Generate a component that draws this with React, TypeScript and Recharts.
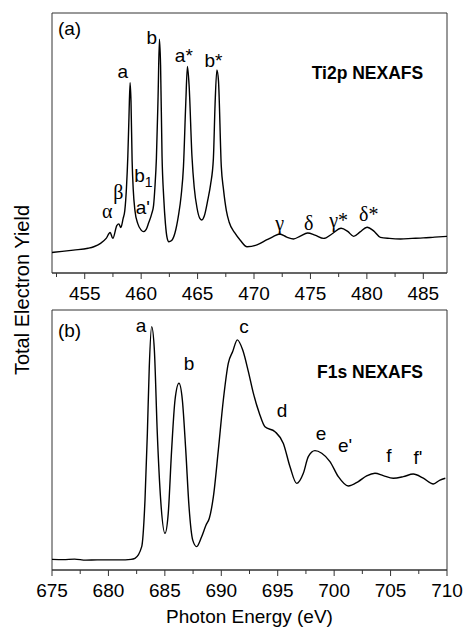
import { LineChart, Line, XAxis, YAxis, ReferenceArea, ReferenceDot } from 'recharts'

const SANS = '"Liberation Sans", Arial, Helvetica, sans-serif'
const SERIF = '"Liberation Serif", "Times New Roman", serif'

// Ti 2p spectrum (panel a)
const tiEnergy = [
  452.1, 453.0, 454.0, 455.3, 455.8, 456.4, 456.9, 457.25, 457.49, 457.84, 458.02, 458.2, 458.4,
  458.55, 458.7, 458.82, 458.92, 459.02, 459.1, 459.2, 459.3, 459.45, 459.7, 460.0, 460.2, 460.45,
  460.65, 460.95, 461.1, 461.22, 461.35, 461.5, 461.62, 461.72, 461.85, 462.0, 462.15, 462.3, 462.45,
  462.7, 463.0, 463.3, 463.55, 463.75, 463.95, 464.1, 464.25, 464.5, 464.7, 464.95, 465.2, 465.38,
  465.6, 465.9, 466.15, 466.4, 466.55, 466.71, 466.85, 467.1, 467.3, 467.55, 467.8, 468.3, 468.8,
  469.38, 470.26, 471.15, 471.7, 472.27, 472.9, 473.5, 474.1, 474.75, 475.4, 476.17, 476.9, 477.72,
  478.3, 478.83, 479.4, 480.02, 480.6, 481.2, 482.0, 482.98, 484.0, 485.0, 486.0, 487.1,
]
const tiYield = [
  7.9, 8.3, 8.8, 9.5, 10.1, 11.4, 13.3, 15.6, 13.3, 18.2, 18.9, 17.5, 20.9,
  24, 33, 45, 60, 73.2, 66, 43, 32, 24, 19, 16.5, 15.9, 16.8,
  19.1, 23, 26, 33, 44, 68, 89.9, 80, 45, 29, 19, 13.5, 12.0,
  12.5, 15.5, 22, 30, 41, 65, 79.4, 72, 45, 33, 25, 21, 20.4,
  22, 28, 34, 44, 65, 78.1, 74, 41, 32, 24, 19.5, 15.4, 12.5,
  10.1, 10.8, 12.8, 14.0, 15.0, 13.8, 13.1, 14.2, 15.4, 14.6, 13.3, 15.0, 17.2,
  16.0, 14.1, 15.8, 17.6, 16.2, 13.7, 13.3, 13.1, 13.3, 13.5, 13.8, 14.1,
]

// F 1s spectrum (panel b)
const fEnergy = [
  675, 676, 677, 678, 679, 680, 681, 682, 682.35, 682.95, 683.24, 683.45, 683.62, 683.83,
  684.07, 684.33, 684.63, 685.01, 685.3, 685.6, 685.9, 686.25, 686.55, 686.85, 687.14, 687.47,
  687.82, 688.26, 688.65, 688.94, 689.3, 689.74, 690.18, 690.62, 691.01, 691.42, 691.9, 692.4,
  692.84, 693.37, 693.87, 694.76, 695.5, 696.09, 696.68, 697.27, 697.71, 698.3, 698.9, 699.63,
  700.37, 701.25, 702.14, 702.88, 703.62, 704.35, 705.24, 706.13, 707.01, 707.9, 708.79, 709.38, 709.85,
]
const fYield = [
  4.1, 4.0, 4.2, 3.8, 3.9, 3.9, 3.9, 4.1, 4.5, 9.0, 26.9, 52.6, 78.2, 93.6,
  84.6, 52.6, 26.9, 14.1, 21.8, 46.2, 65.4, 71.8, 65.4, 46.2, 24.4, 11.5,
  9.0, 12.8, 17.3, 19.9, 28.2, 46.2, 65.4, 79.5, 84.0, 88.5, 84.6, 76.3,
  68.0, 60.3, 55.1, 53.2, 48.7, 39.7, 33.3, 37.2, 43.6, 45.9, 44.9, 41.7,
  35.9, 32.3, 34.0, 36.2, 37.2, 36.3, 35.3, 35.9, 36.9, 35.3, 33.1, 34.6, 35.3,
]

const tiTicks = [452.5, 455, 457.5, 460, 462.5, 465, 467.5, 470, 472.5, 475, 477.5, 480, 482.5, 485]
const fTicks = [675, 677.5, 680, 682.5, 685, 687.5, 690, 692.5, 695, 697.5, 700, 702.5, 705, 707.5, 710]

type Note = {
  x: number
  y: number
  text: string
  sub?: string
  serif?: boolean
  bold?: boolean
  size?: number
  anchor?: 'start' | 'middle'
}

const tiNotes: Note[] = [
  { x: 452.63, y: 94.2, text: '(a)', anchor: 'start' },
  { x: 458.37, y: 77.8, text: 'a' },
  { x: 460.95, y: 90.6, text: 'b' },
  { x: 463.78, y: 83.8, text: 'a*' },
  { x: 466.41, y: 81.9, text: 'b*' },
  { x: 460.2, y: 37.7, text: 'b', sub: '1' },
  { x: 460.15, y: 25.5, text: "a'" },
  { x: 457.0, y: 24.0, text: 'α', serif: true },
  { x: 457.98, y: 31.3, text: 'β', serif: true },
  { x: 472.27, y: 19.4, text: 'γ', serif: true },
  { x: 474.84, y: 19.4, text: 'δ', serif: true },
  { x: 477.5, y: 20.4, text: 'γ*', serif: true },
  { x: 480.17, y: 22.7, text: 'δ*', serif: true },
  { x: 480.05, y: 76.9, text: 'Ti2p NEXAFS', bold: true, size: 17.5 },
]

const fNotes: Note[] = [
  { x: 675.53, y: 92.3, text: '(b)', anchor: 'start' },
  { x: 682.89, y: 94.2, text: 'a' },
  { x: 687.14, y: 79.6, text: 'b' },
  { x: 692.01, y: 93.8, text: 'c' },
  { x: 695.38, y: 61.5, text: 'd' },
  { x: 698.83, y: 52.7, text: 'e' },
  { x: 700.96, y: 48.1, text: "e'" },
  { x: 704.86, y: 44.2, text: 'f' },
  { x: 707.43, y: 43.5, text: "f'" },
  { x: 703.18, y: 76.2, text: 'F1s NEXAFS', bold: true, size: 17.5 },
]

const tiRows = tiEnergy.map((x, i) => ({ x, y: tiYield[i] }))
const fRows = fEnergy.map((x, i) => ({ x, y: fYield[i] }))

function AxisTick({ x, y, payload }: any) {
  const major = payload.value % 5 === 0
  return (
    <g>
      <line x1={x} x2={x} y1={y} y2={y + (major ? 6 : 4)} stroke="#333" />
      {major && (
        <text x={x} y={y + 27} textAnchor="middle" fontSize={19} fontFamily={SANS} fill="#000">
          {payload.value}
        </text>
      )}
    </g>
  )
}

const noteShape = (n: Note) => (p: any) => (
  <text
    x={p.cx}
    y={p.cy}
    dy="0.36em"
    textAnchor={n.anchor ?? 'middle'}
    fontFamily={n.serif ? SERIF : SANS}
    fontSize={n.size ?? (n.serif ? 20 : 19)}
    fontWeight={n.bold ? 'bold' : 'normal'}
    fill="#000"
  >
    {n.text}
    {n.sub && (
      <tspan dy={5} fontSize={14}>
        {n.sub}
      </tspan>
    )}
  </text>
)

interface PanelProps {
  rows: { x: number; y: number }[]
  domain: [number, number]
  ticks: number[]
  notes: Note[]
  height: number
  top: number
  axisHeight: number
  title?: string
}

function Panel({ rows, domain, ticks, notes, height, top, axisHeight, title }: PanelProps) {
  return (
    <div style={{ position: 'absolute', left: 0, top }}>
      <LineChart width={464} height={height} data={rows} margin={{ top: 13 - (top > 0 ? 3 : 0), right: 17, bottom: 0, left: 52 }}>
        <XAxis
          dataKey="x"
          type="number"
          domain={domain}
          allowDataOverflow
          ticks={ticks}
          interval={0}
          height={axisHeight}
          tick={<AxisTick />}
          tickLine={false}
          tickSize={0}
          tickMargin={0}
          axisLine={{ stroke: '#333' }}
          label={
            title
              ? {
                  content: ({ viewBox }: any) => (
                    <text
                      x={viewBox.x + viewBox.width / 2}
                      y={viewBox.y + 53}
                      textAnchor="middle"
                      fontSize={19}
                      fontFamily={SANS}
                      fill="#000"
                    >
                      {title}
                    </text>
                  ),
                }
              : undefined
          }
        />
        <YAxis hide domain={[0, 100]} />
        <ReferenceArea x1={domain[0]} x2={domain[1]} y1={0} y2={100} fill="none" stroke="#333" strokeWidth={1} />
        <Line type="monotone" dataKey="y" stroke="#000" strokeWidth={1.4} dot={false} isAnimationActive={false} />
        {notes.map((n, i) => (
          <ReferenceDot key={i} x={n.x} y={n.y} r={0} shape={noteShape(n)} />
        ))}
      </LineChart>
    </div>
  )
}

export default function App() {
  return (
    <div style={{ position: 'absolute', left: 0, top: 0, width: 464, height: 629, background: '#fff' }}>
      <Panel rows={tiRows} domain={[452.1, 487.1]} ticks={tiTicks} notes={tiNotes} height={310} top={0} axisHeight={37} />
      <Panel
        rows={fRows}
        domain={[675, 710]}
        ticks={fTicks}
        notes={fNotes}
        height={329}
        top={300}
        axisHeight={59}
        title="Photon Energy (eV)"
      />
      <div
        style={{
          position: 'absolute',
          left: 22,
          top: 290,
          transform: 'translate(-50%, -50%) rotate(-90deg)',
          whiteSpace: 'nowrap',
          fontFamily: SANS,
          fontSize: 20,
        }}
      >
        Total Electron Yield
      </div>
    </div>
  )
}
